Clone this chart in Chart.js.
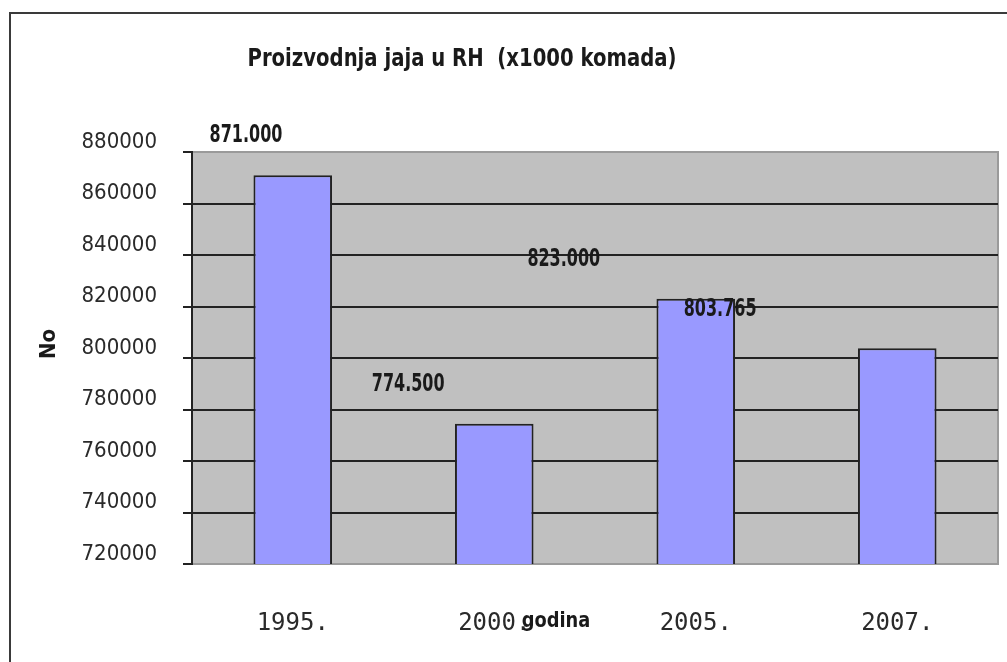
<!DOCTYPE html>
<html>
<head>
<meta charset="utf-8">
<script src="https://cdn.jsdelivr.net/npm/chart.js@4.4.1/dist/chart.umd.min.js"></script>
<style>
  html, body { margin: 0; padding: 0; background: #fff; overflow: hidden; }
  #wrap { position: relative; width: 1007px; height: 662px; }
  #frame {
    position: absolute; left: 9px; top: 12px; width: 1100px; height: 700px;
    border: 2px solid #3a3a3a; pointer-events: none;
  }
</style>
</head>
<body>
<div id="wrap">
  <canvas id="eggs-chart" width="1007" height="662"></canvas>
  <div id="frame"></div>
</div>
<script>
// Chart data
var years = ['1995.', '2000.', '2005.', '2007.'];
var eggProduction = [871000, 774500, 823000, 803765];
var valueLabels = ['871.000', '774.500', '823.000', '803.765'];
var yMin = 720000, yMax = 880000, yStep = 20000;

var narrow = "'Liberation Sans Narrow', 'DejaVu Sans Condensed', 'Arial Narrow', sans-serif";
var textColor = '#1a1a1a',
    gridLineColor = '#222222';

// Draw text squeezed horizontally (the original uses a very narrow font)
function squeezedText(c, text, x, y, sx) {
    c.save();
    c.translate(x, y);
    c.scale(sx, 1);
    c.fillText(text, 0, 0);
    c.restore();
}

// Gray plot background plus light border round it
var plotBackground = {
    id: 'plotBackground',
    beforeDraw(chart) {
        var a = chart.chartArea, c = chart.ctx;
        c.save();
        c.fillStyle = '#c0c0c0';
        c.fillRect(a.left, a.top, a.right - a.left, a.bottom - a.top);
        c.strokeStyle = '#9a9a9a';
        c.lineWidth = 2;
        c.strokeRect(a.left, a.top, a.right - a.left, a.bottom - a.top);
        c.restore();
    }
};

// Title, axis names and the (shifted) value labels, as in the original
var extraText = {
    id: 'extraText',
    afterDraw(chart, args, opts) {
        var c = chart.ctx, xs = chart.scales.x, ys = chart.scales.y;
        var catWidth = (chart.chartArea.right - chart.chartArea.left) / years.length;
        c.save();
        c.fillStyle = textColor;
        c.textAlign = 'center';
        c.textBaseline = 'middle';

        c.font = 'bold 24px ' + narrow;
        squeezedText(c, 'Proizvodnja jaja u RH  (x1000 komada)', 462, 60, 0.91);

        c.font = 'bold 22px ' + narrow;
        squeezedText(c, 'godina', 556, 621, 0.9);

        c.save();
        c.translate(49, 344);
        c.rotate(-Math.PI / 2);
        c.fillText('No', 0, 0);
        c.restore();

        c.font = 'bold 24px ' + narrow;
        eggProduction.forEach(function (v, i) {
            var x = xs.getPixelForValue(i) + opts.shift[i] * catWidth;
            var y = ys.getPixelForValue(v) - 39;
            squeezedText(c, valueLabels[i], x, y, 0.74);
        });
        c.restore();
    }
};

var chart = new Chart(document.getElementById('eggs-chart'), {
    type: 'bar',
    data: {
        labels: years,
        datasets: [{
            data: eggProduction,
            backgroundColor: '#9999ff',
            borderColor: '#222222',
            borderWidth: 2,
            borderSkipped: false,
            categoryPercentage: 1,
            barPercentage: 0.39
        }]
    },
    options: {
        responsive: false,
        animation: false,
        layout: { padding: { top: 152, right: 9, left: 0, bottom: 0 } },
        plugins: {
            legend: { display: false },
            title: { display: false },
            tooltip: { enabled: false },
            extraText: { shift: [-0.232, -0.427, -0.655, -0.879] }
        },
        scales: {
            x: {
                afterFit: function (scale) { scale.height = 98; },
                grid: { display: false },
                border: { display: false },
                ticks: {
                    color: '#2a2a2a',
                    padding: 37,
                    font: { family: "'DejaVu Sans Mono', 'Liberation Mono', monospace", size: 24 }
                }
            },
            y: {
                min: yMin,
                max: yMax,
                afterFit: function (scale) { scale.width = 192; },
                grid: {
                    color: function (ctx) {
                        var v = ctx.tick && ctx.tick.value;
                        return (v === yMin || v === yMax) ? 'rgba(0,0,0,0)' : gridLineColor;
                    },
                    lineWidth: 2,
                    tickColor: gridLineColor,
                    tickLength: 9
                },
                border: { color: gridLineColor, width: 2 },
                ticks: {
                    stepSize: yStep,
                    color: '#2a2a2a',
                    padding: 26,
                    labelOffset: -10,
                    font: { family: narrow, size: 22 },
                    callback: function (v) { return String(v); }
                }
            }
        }
    },
    plugins: [plotBackground, extraText]
});
</script>
</body>
</html>
